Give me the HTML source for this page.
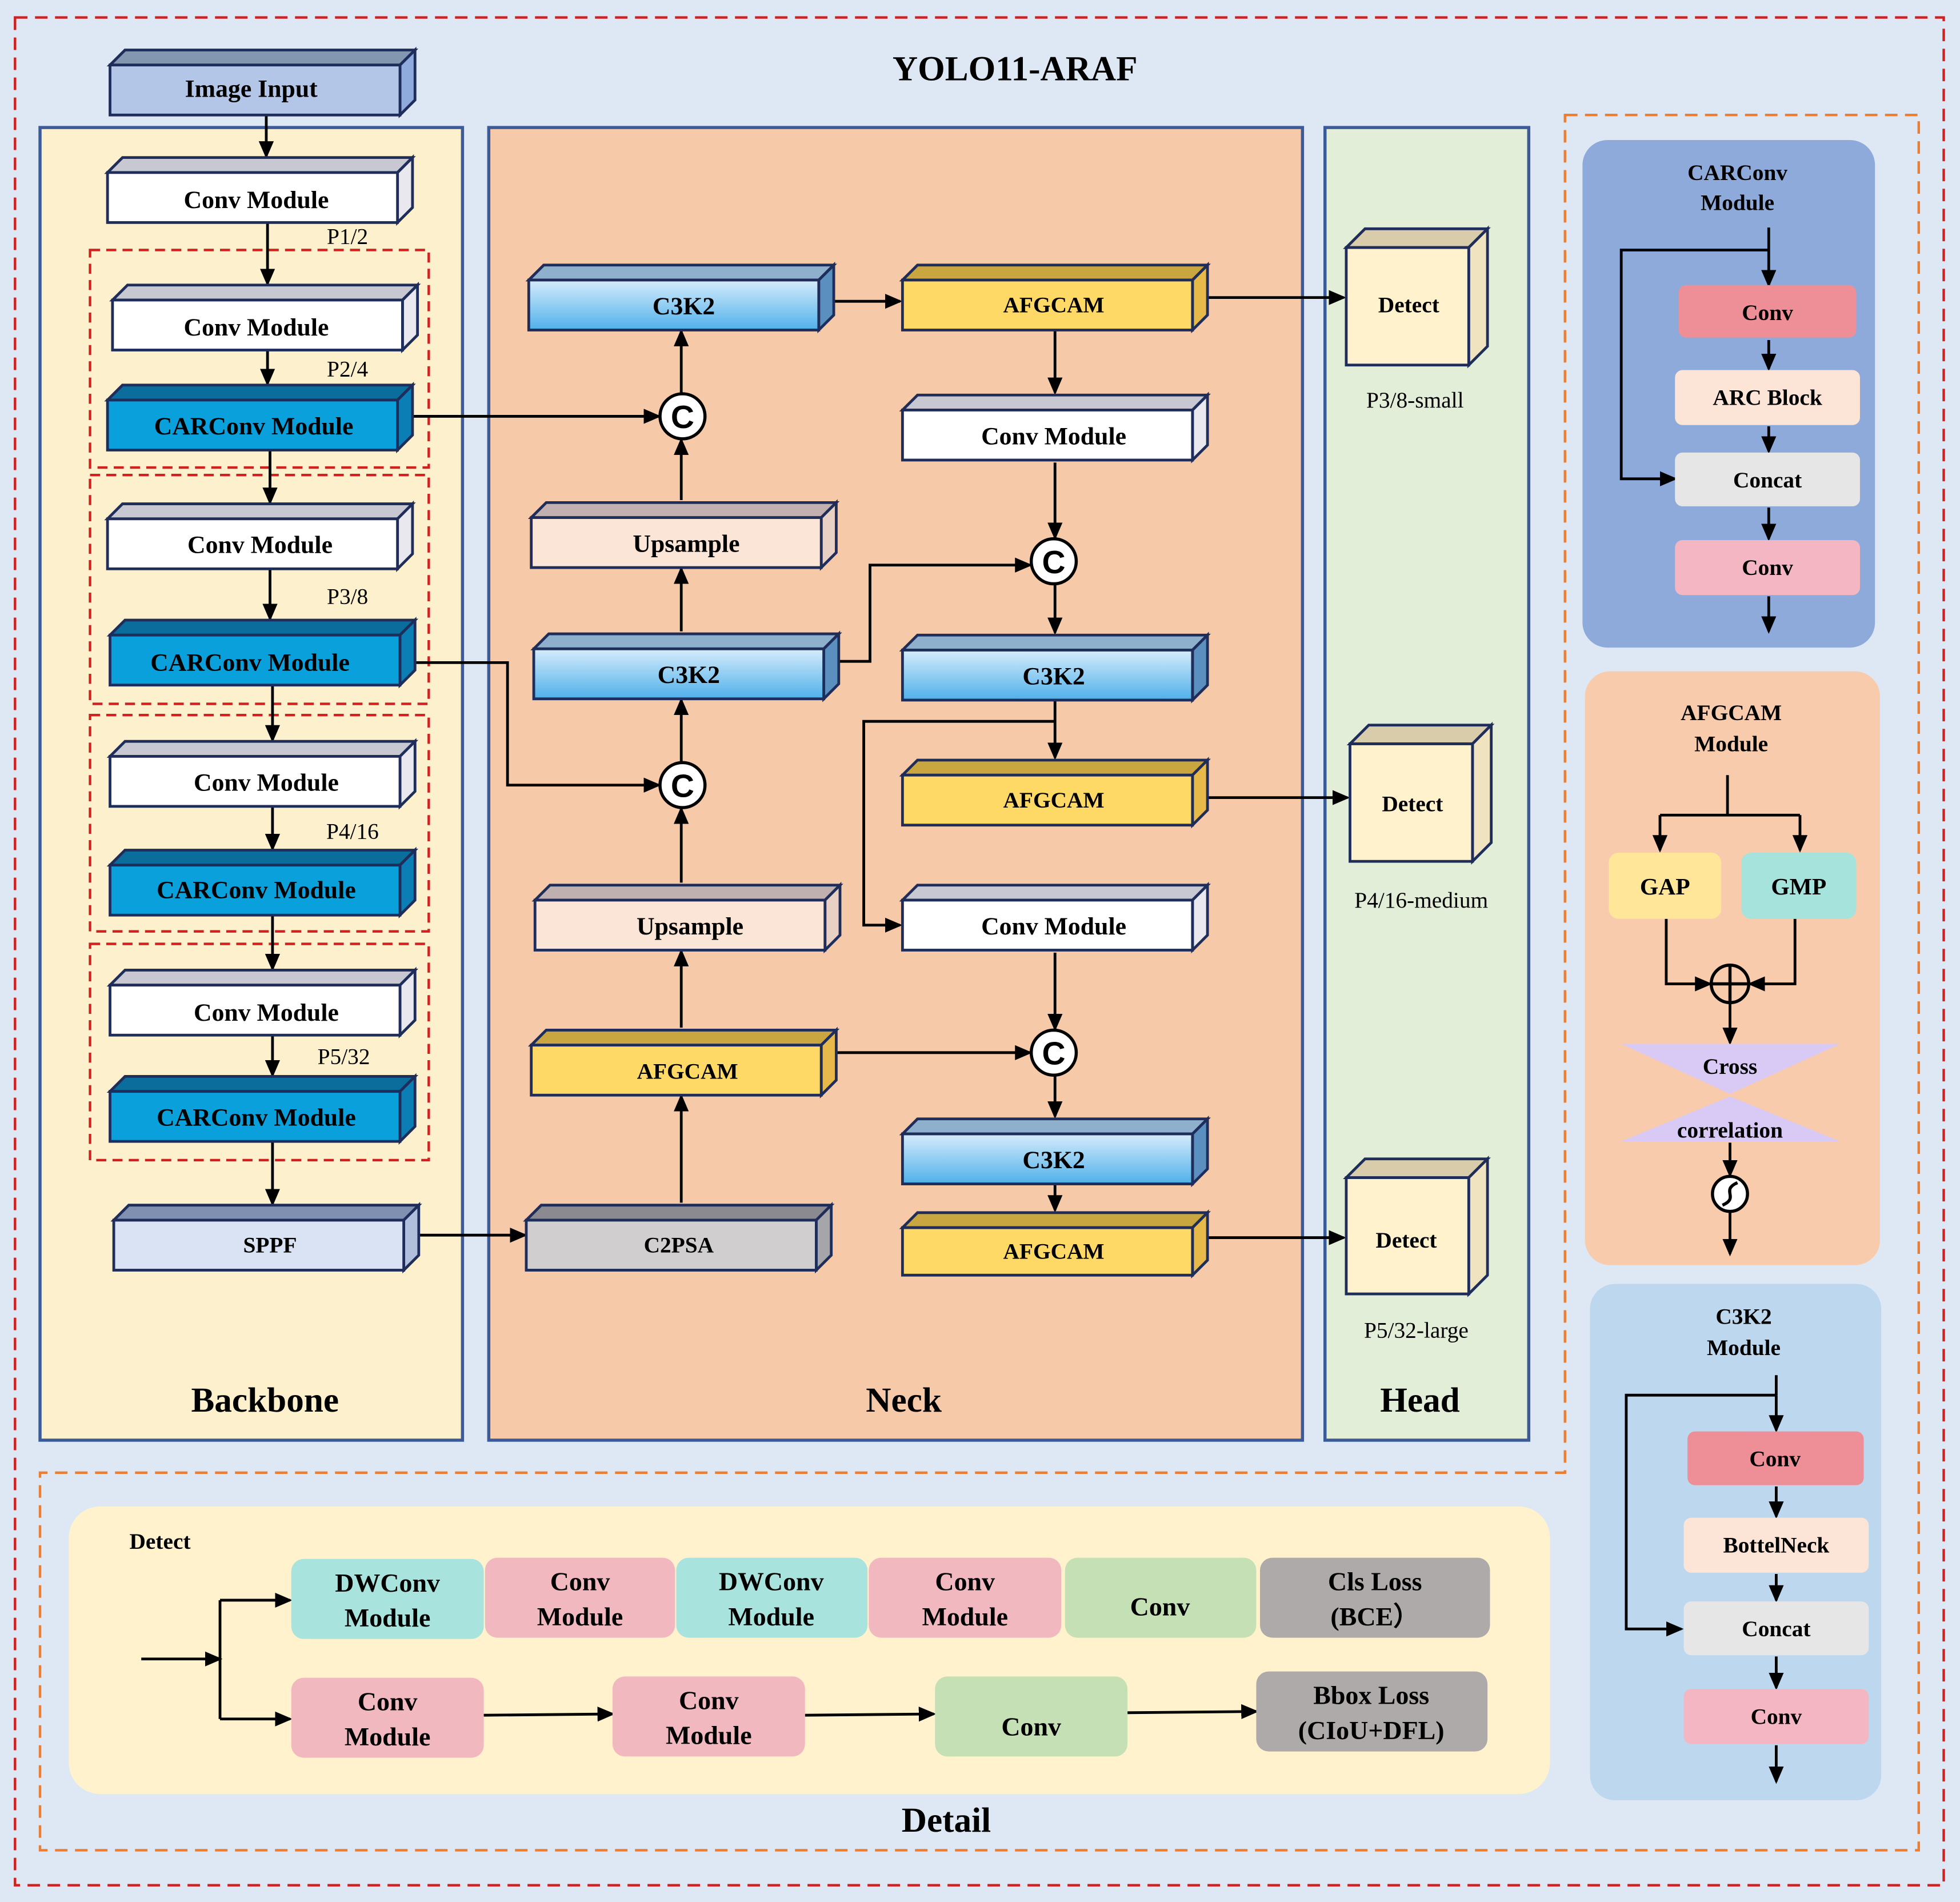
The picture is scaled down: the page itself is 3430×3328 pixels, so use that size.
<!DOCTYPE html>
<html><head><meta charset="utf-8"><style>
html,body{margin:0;padding:0;background:#dde8f4}
svg{display:block}
text{font-family:"Liberation Serif",serif;font-weight:bold;fill:#000;text-anchor:middle;dominant-baseline:central}
.fr{stroke:#1f2d5a;stroke-width:2.2}
.ln{stroke:#000;stroke-width:2.2;fill:none}
.a{marker-end:url(#ah)}
.w{fill:#fff}.wt{fill:#c8c8d2}.ws{fill:#e8e8ee}
.car{fill:#0aa0dc}.cart{fill:#0a6d9c}.cars{fill:#0b7fb5}
.af{fill:#ffd966}.aft{fill:#c9a640}.afs{fill:#e6b94a}
.up{fill:#fbe5d6}.upt{fill:#c0b0b0}.ups{fill:#e8d0c4}
.c3{fill:url(#g3)}.c3t{fill:#8fb0cc}.c3s{fill:#5a8fc0}
.l{font-size:20px}
.n{font-family:"Liberation Serif",serif;font-weight:normal;font-size:18px}
</style></head><body>
<svg width="3430" height="3328" viewBox="0 0 1568 1521.4" xmlns="http://www.w3.org/2000/svg">
<defs>
<marker id="ah" markerWidth="14" markerHeight="12" refX="12" refY="6" orient="auto" markerUnits="userSpaceOnUse"><path d="M0,0 L14,6 L0,12 z" fill="#000"/></marker>
<linearGradient id="g3" x1="0" y1="0" x2="0" y2="1"><stop offset="0" stop-color="#d6ecfb"/><stop offset="1" stop-color="#4fb0ea"/></linearGradient>
</defs>
<rect x="0" y="0" width="1568" height="1522" fill="#dde8f4"/>
<rect x="12" y="14" width="1543" height="1494" fill="none" stroke="#d02020" stroke-width="2" stroke-dasharray="10,6"/>
<path d="M1252,92 L1535,92 L1535,1480 L32,1480 L32,1178 L1252,1178 Z" fill="none" stroke="#ed7d31" stroke-width="2" stroke-dasharray="10,6"/>
<text x="812" y="55" style="font-size:28px">YOLO11-ARAF</text>

<rect x="32" y="102" width="338" height="1050" fill="#fdf0cc" stroke="#3a5a9a" stroke-width="2.5"/>
<rect x="391" y="102" width="651" height="1050" fill="#f6c9a8" stroke="#3a5a9a" stroke-width="2.5"/>
<rect x="1060" y="102" width="163" height="1050" fill="#e2eed8" stroke="#3a5a9a" stroke-width="2.5"/>
<text x="212" y="1120" style="font-size:28px">Backbone</text>
<text x="723" y="1120" style="font-size:28px">Neck</text>
<text x="1136" y="1120" style="font-size:28px">Head</text>

<g fill="none" stroke="#d02020" stroke-width="2" stroke-dasharray="8,5">
<rect x="72" y="200" width="271" height="174"/><rect x="72" y="380" width="271" height="183"/>
<rect x="72" y="572" width="271" height="173"/><rect x="72" y="755" width="271" height="173"/>
</g>

<!-- backbone arrows -->
<g class="ln">
<line class="a" x1="213" y1="92" x2="213" y2="125"/>
<line class="a" x1="214" y1="178" x2="214" y2="227"/>
<line class="a" x1="214" y1="280" x2="214" y2="307"/>
<line class="a" x1="216" y1="360" x2="216" y2="402"/>
<line class="a" x1="216" y1="455" x2="216" y2="495"/>
<line class="a" x1="218" y1="548" x2="218" y2="592"/>
<line class="a" x1="218" y1="645" x2="218" y2="679"/>
<line class="a" x1="218" y1="732" x2="218" y2="775"/>
<line class="a" x1="218" y1="828" x2="218" y2="860"/>
<line class="a" x1="218" y1="913" x2="218" y2="963"/>
<line class="a" x1="336" y1="988" x2="420" y2="988"/>
<line class="a" x1="545" y1="962" x2="545" y2="877"/>
<line class="a" x1="545" y1="822" x2="545" y2="761"/>
<line class="a" x1="545" y1="706" x2="545" y2="647"/>
<line class="a" x1="545" y1="610" x2="545" y2="560"/>
<line class="a" x1="545" y1="505" x2="545" y2="455"/>
<line class="a" x1="545" y1="400" x2="545" y2="352"/>
<line class="a" x1="545" y1="315" x2="545" y2="265"/>
<line class="a" x1="330" y1="333" x2="527" y2="333"/>
<polyline class="a" points="332,530 406,530 406,628 527,628"/>
<line class="a" x1="668" y1="241" x2="720" y2="241"/>
<line class="a" x1="966" y1="238" x2="1075" y2="238"/>
<line class="a" x1="844" y1="265" x2="844" y2="314"/>
<line class="a" x1="844" y1="370" x2="844" y2="430"/>
<polyline class="a" points="672,529 696,529 696,452 824,452"/>
<line class="a" x1="844" y1="468" x2="844" y2="506"/>
<line class="a" x1="844" y1="560" x2="844" y2="606"/>
<polyline class="a" points="844,577 691,577 691,740 720,740"/>
<line class="a" x1="966" y1="638" x2="1078" y2="638"/>
<line class="a" x1="844" y1="762" x2="844" y2="823"/>
<line class="a" x1="669" y1="842" x2="824" y2="842"/>
<line class="a" x1="844" y1="861" x2="844" y2="893"/>
<line class="a" x1="844" y1="948" x2="844" y2="968"/>
<line class="a" x1="966" y1="990" x2="1075" y2="990"/>
</g>

<!-- backbone boxes -->
<g class="fr">
<polygon points="88,52 100,40 332,40 320,52" fill="#8497b0"/><polygon points="320,52 332,40 332,80 320,92" fill="#8faadc"/><rect x="88" y="52" width="232" height="40" fill="#b4c6e7"/>
<polygon class="wt" points="86,138 98,126 330,126 318,138"/><polygon class="ws" points="318,138 330,126 330,166 318,178"/><rect class="w" x="86" y="138" width="232" height="40"/>
<polygon class="wt" points="90,240 102,228 334,228 322,240"/><polygon class="ws" points="322,240 334,228 334,268 322,280"/><rect class="w" x="90" y="240" width="232" height="40"/>
<polygon class="cart" points="86,320 98,308 330,308 318,320"/><polygon class="cars" points="318,320 330,308 330,348 318,360"/><rect class="car" x="86" y="320" width="232" height="40"/>
<polygon class="wt" points="86,415 98,403 330,403 318,415"/><polygon class="ws" points="318,415 330,403 330,443 318,455"/><rect class="w" x="86" y="415" width="232" height="40"/>
<polygon class="cart" points="88,508 100,496 332,496 320,508"/><polygon class="cars" points="320,508 332,496 332,536 320,548"/><rect class="car" x="88" y="508" width="232" height="40"/>
<polygon class="wt" points="88,605 100,593 332,593 320,605"/><polygon class="ws" points="320,605 332,593 332,633 320,645"/><rect class="w" x="88" y="605" width="232" height="40"/>
<polygon class="cart" points="88,692 100,680 332,680 320,692"/><polygon class="cars" points="320,692 332,680 332,720 320,732"/><rect class="car" x="88" y="692" width="232" height="40"/>
<polygon class="wt" points="88,788 100,776 332,776 320,788"/><polygon class="ws" points="320,788 332,776 332,816 320,828"/><rect class="w" x="88" y="788" width="232" height="40"/>
<polygon class="cart" points="88,873 100,861 332,861 320,873"/><polygon class="cars" points="320,873 332,861 332,901 320,913"/><rect class="car" x="88" y="873" width="232" height="40"/>
<polygon points="91,976 103,964 335,964 323,976" fill="#8090b0"/><polygon points="323,976 335,964 335,1004 323,1016" fill="#b0c0dc"/><rect x="91" y="976" width="232" height="40" fill="#dae3f3"/>
<!-- neck -->
<polygon points="421,976 433,964 665,964 653,976" fill="#8a8a90"/><polygon points="653,976 665,964 665,1004 653,1016" fill="#a6a6aa"/><rect x="421" y="976" width="232" height="40" fill="#d0cece"/>
<polygon class="aft" points="425,836 437,824 669,824 657,836"/><polygon class="afs" points="657,836 669,824 669,864 657,876"/><rect class="af" x="425" y="836" width="232" height="40"/>
<polygon class="upt" points="428,720 440,708 672,708 660,720"/><polygon class="ups" points="660,720 672,708 672,748 660,760"/><rect class="up" x="428" y="720" width="232" height="40"/>
<polygon class="c3t" points="427,519 439,507 671,507 659,519"/><polygon class="c3s" points="659,519 671,507 671,547 659,559"/><rect class="c3" x="427" y="519" width="232" height="40"/>
<polygon class="upt" points="425,414 437,402 669,402 657,414"/><polygon class="ups" points="657,414 669,402 669,442 657,454"/><rect class="up" x="425" y="414" width="232" height="40"/>
<polygon class="c3t" points="423,224 435,212 667,212 655,224"/><polygon class="c3s" points="655,224 667,212 667,252 655,264"/><rect class="c3" x="423" y="224" width="232" height="40"/>
<polygon class="aft" points="722,224 734,212 966,212 954,224"/><polygon class="afs" points="954,224 966,212 966,252 954,264"/><rect class="af" x="722" y="224" width="232" height="40"/>
<polygon class="wt" points="722,328 734,316 966,316 954,328"/><polygon class="ws" points="954,328 966,316 966,356 954,368"/><rect class="w" x="722" y="328" width="232" height="40"/>
<polygon class="c3t" points="722,520 734,508 966,508 954,520"/><polygon class="c3s" points="954,520 966,508 966,548 954,560"/><rect class="c3" x="722" y="520" width="232" height="40"/>
<polygon class="aft" points="722,620 734,608 966,608 954,620"/><polygon class="afs" points="954,620 966,608 966,648 954,660"/><rect class="af" x="722" y="620" width="232" height="40"/>
<polygon class="wt" points="722,720 734,708 966,708 954,720"/><polygon class="ws" points="954,720 966,708 966,748 954,760"/><rect class="w" x="722" y="720" width="232" height="40"/>
<polygon class="c3t" points="722,907 734,895 966,895 954,907"/><polygon class="c3s" points="954,907 966,895 966,935 954,947"/><rect class="c3" x="722" y="907" width="232" height="40"/>
<polygon class="aft" points="722,982 734,970 966,970 954,982"/><polygon class="afs" points="954,982 966,970 966,1008 954,1020"/><rect class="af" x="722" y="982" width="232" height="38"/>
<!-- detect cubes -->
<polygon points="1077,198 1092,183 1190,183 1175,198" fill="#d8ccaa"/><polygon points="1175,198 1190,183 1190,277 1175,292" fill="#f0e4c0"/><rect x="1077" y="198" width="98" height="94" fill="#fff2cc"/>
<polygon points="1080,595 1095,580 1193,580 1178,595" fill="#d8ccaa"/><polygon points="1178,595 1193,580 1193,674 1178,689" fill="#f0e4c0"/><rect x="1080" y="595" width="98" height="94" fill="#fff2cc"/>
<polygon points="1077,942 1092,927 1190,927 1175,942" fill="#d8ccaa"/><polygon points="1175,942 1190,927 1190,1020 1175,1035" fill="#f0e4c0"/><rect x="1077" y="942" width="98" height="93" fill="#fff2cc"/>
</g>

<!-- concat circles -->
<g fill="#fff" stroke="#000" stroke-width="2.5">
<circle cx="546" cy="333" r="18"/><circle cx="546" cy="628" r="18"/><circle cx="843" cy="449" r="18"/><circle cx="843" cy="842" r="18"/>
</g>
<g style="font-size:26px"><text x="546" y="334" style="font-family:'Liberation Sans',sans-serif;font-size:26px">C</text><text x="546" y="629" style="font-family:'Liberation Sans',sans-serif;font-size:26px">C</text><text x="843" y="450" style="font-family:'Liberation Sans',sans-serif;font-size:26px">C</text><text x="843" y="843" style="font-family:'Liberation Sans',sans-serif;font-size:26px">C</text></g>

<g class="l">
<text x="201" y="71">Image Input</text>
<text x="205" y="160">Conv Module</text>
<text x="205" y="262">Conv Module</text>
<text x="203" y="341">CARConv Module</text>
<text x="208" y="436">Conv Module</text>
<text x="200" y="530">CARConv Module</text>
<text x="213" y="626">Conv Module</text>
<text x="205" y="712">CARConv Module</text>
<text x="213" y="810">Conv Module</text>
<text x="205" y="894">CARConv Module</text>
<text x="216" y="996" style="font-size:18px">SPPF</text>
<text x="543" y="996" style="font-size:18px">C2PSA</text>
<text x="550" y="857" style="font-size:18px">AFGCAM</text>
<text x="552" y="741">Upsample</text>
<text x="551" y="540">C3K2</text>
<text x="549" y="435">Upsample</text>
<text x="547" y="245">C3K2</text>
<text x="843" y="244" style="font-size:18px">AFGCAM</text>
<text x="843" y="349">Conv Module</text>
<text x="843" y="541">C3K2</text>
<text x="843" y="640" style="font-size:18px">AFGCAM</text>
<text x="843" y="741">Conv Module</text>
<text x="843" y="928">C3K2</text>
<text x="843" y="1001" style="font-size:18px">AFGCAM</text>
<text x="1127" y="244" style="font-size:18px">Detect</text>
<text x="1130" y="643" style="font-size:18px">Detect</text>
<text x="1125" y="992" style="font-size:18px">Detect</text>
</g>
<g class="n">
<text class="n" x="278" y="189">P1/2</text><text class="n" x="278" y="295">P2/4</text><text class="n" x="278" y="477">P3/8</text>
<text class="n" x="282" y="665">P4/16</text><text class="n" x="275" y="845">P5/32</text>
<text class="n" x="1132" y="320">P3/8-small</text><text class="n" x="1137" y="720">P4/16-medium</text><text class="n" x="1133" y="1064">P5/32-large</text>
</g>

<!-- CARConv module panel -->
<rect x="1266" y="112" width="234" height="406" rx="20" fill="#8eaadb"/>
<text x="1390" y="138" style="font-size:18px">CARConv</text><text x="1390" y="162" style="font-size:18px">Module</text>
<g class="ln">
<line x1="1415" y1="182" x2="1415" y2="200"/><polyline class="a" points="1415,200 1297,200 1297,383 1340,383"/>
<line class="a" x1="1415" y1="200" x2="1415" y2="228"/>
<line class="a" x1="1415" y1="272" x2="1415" y2="295"/>
<line class="a" x1="1415" y1="341" x2="1415" y2="361"/>
<line class="a" x1="1415" y1="406" x2="1415" y2="431"/>
<line class="a" x1="1415" y1="477" x2="1415" y2="505"/>
</g>
<rect x="1343" y="228" width="142" height="42" rx="6" fill="#ee8f97"/><text x="1414" y="250" style="font-size:18px">Conv</text>
<rect x="1340" y="296" width="148" height="44" rx="6" fill="#fce4d6"/><text x="1414" y="318" style="font-size:18px">ARC Block</text>
<rect x="1340" y="362" width="148" height="43" rx="6" fill="#e7e6e6"/><text x="1414" y="384" style="font-size:18px">Concat</text>
<rect x="1340" y="432" width="148" height="44" rx="6" fill="#f4b6c2"/><text x="1414" y="454" style="font-size:18px">Conv</text>

<!-- AFGCAM module panel -->
<rect x="1268" y="537" width="236" height="475" rx="20" fill="#f8cbad"/>
<text x="1385" y="570" style="font-size:18px">AFGCAM</text><text x="1385" y="595" style="font-size:18px">Module</text>
<g class="ln">
<line x1="1382" y1="620" x2="1382" y2="652"/><line x1="1328" y1="652" x2="1440" y2="652"/>
<line class="a" x1="1328" y1="652" x2="1328" y2="680"/><line class="a" x1="1440" y1="652" x2="1440" y2="680"/>
<polyline class="a" points="1333,735 1333,787 1368,787"/><polyline class="a" points="1436,735 1436,787 1400,787"/>
<line class="a" x1="1384" y1="802" x2="1384" y2="834"/>
<line class="a" x1="1384" y1="914" x2="1384" y2="940"/>
<line class="a" x1="1384" y1="970" x2="1384" y2="1003"/>
</g>
<rect x="1287" y="682" width="90" height="53" rx="8" fill="#ffe699"/><text x="1332" y="709" style="font-size:19px">GAP</text>
<rect x="1393" y="682" width="92" height="53" rx="8" fill="#a6e3dc"/><text x="1439" y="709" style="font-size:19px">GMP</text>
<circle cx="1384" cy="787" r="15" fill="none" stroke="#000" stroke-width="2.5"/>
<line x1="1369" y1="787" x2="1399" y2="787" stroke="#000" stroke-width="2.5"/><line x1="1384" y1="772" x2="1384" y2="802" stroke="#000" stroke-width="2.5"/>
<polygon points="1297,835 1472,835 1384,875" fill="#d9c9f5"/><polygon points="1384,877 1297,913 1472,913" fill="#d9c9f5"/>
<text x="1384" y="853" style="font-size:18px">Cross</text><text x="1384" y="904" style="font-size:18px">correlation</text>
<circle cx="1384" cy="955" r="14" fill="#fff" stroke="#000" stroke-width="2.5"/>
<path d="M1378,964 C1392,958 1376,952 1390,946" fill="none" stroke="#000" stroke-width="2.5"/>

<!-- C3K2 module panel -->
<rect x="1272" y="1027" width="233" height="413" rx="20" fill="#bdd7ee"/>
<text x="1395" y="1053" style="font-size:18px">C3K2</text><text x="1395" y="1078" style="font-size:18px">Module</text>
<g class="ln">
<line x1="1421" y1="1100" x2="1421" y2="1116"/><polyline class="a" points="1421,1116 1301,1116 1301,1303 1345,1303"/>
<line class="a" x1="1421" y1="1116" x2="1421" y2="1144"/>
<line class="a" x1="1421" y1="1189" x2="1421" y2="1213"/>
<line class="a" x1="1421" y1="1259" x2="1421" y2="1280"/>
<line class="a" x1="1421" y1="1325" x2="1421" y2="1350"/>
<line class="a" x1="1421" y1="1396" x2="1421" y2="1425"/>
</g>
<rect x="1350" y="1145" width="141" height="43" rx="6" fill="#ee8f97"/><text x="1420" y="1167" style="font-size:18px">Conv</text>
<rect x="1347" y="1214" width="148" height="44" rx="6" fill="#fce4d6"/><text x="1421" y="1236" style="font-size:18px">BottelNeck</text>
<rect x="1347" y="1281" width="148" height="43" rx="6" fill="#e7e6e6"/><text x="1421" y="1303" style="font-size:18px">Concat</text>
<rect x="1347" y="1351" width="148" height="44" rx="6" fill="#f4b6c2"/><text x="1421" y="1373" style="font-size:18px">Conv</text>

<!-- Detail -->
<rect x="55" y="1205" width="1185" height="230" rx="25" fill="#fff2cc"/>
<text x="128" y="1233" style="font-size:18px">Detect</text>
<text x="757" y="1456" style="font-size:28px">Detail</text>
<g class="ln">
<line class="a" x1="113" y1="1327" x2="176" y2="1327"/><line x1="176" y1="1280" x2="176" y2="1375"/>
<line class="a" x1="176" y1="1280" x2="232" y2="1280"/><line class="a" x1="176" y1="1375" x2="232" y2="1375"/>
<line class="a" x1="387" y1="1372" x2="490" y2="1371"/>
<line class="a" x1="644" y1="1372" x2="747" y2="1371"/>
<line class="a" x1="902" y1="1370" x2="1005" y2="1369"/>
</g>
<g style="font-size:21px">
<rect x="233" y="1247" width="154" height="64" rx="10" fill="#a8e4dd"/><text x="310" y="1266" style="font-size:21px">DWConv</text><text x="310" y="1294" style="font-size:21px">Module</text>
<rect x="388" y="1246" width="152" height="64" rx="10" fill="#f2b8c0"/><text x="464" y="1265" style="font-size:21px">Conv</text><text x="464" y="1293" style="font-size:21px">Module</text>
<rect x="541" y="1246" width="153" height="64" rx="10" fill="#a8e4dd"/><text x="617" y="1265" style="font-size:21px">DWConv</text><text x="617" y="1293" style="font-size:21px">Module</text>
<rect x="695" y="1246" width="154" height="64" rx="10" fill="#f2b8c0"/><text x="772" y="1265" style="font-size:21px">Conv</text><text x="772" y="1293" style="font-size:21px">Module</text>
<rect x="852" y="1246" width="153" height="64" rx="10" fill="#c5e0b4"/><text x="928" y="1285" style="font-size:21px">Conv</text>
<rect x="1008" y="1246" width="184" height="64" rx="10" fill="#aeaaaa"/><text x="1100" y="1265" style="font-size:21px">Cls Loss</text><text x="1100" y="1293" style="font-size:21px">(BCE）</text>
<rect x="233" y="1342" width="154" height="64" rx="10" fill="#f2b8c0"/><text x="310" y="1361" style="font-size:21px">Conv</text><text x="310" y="1389" style="font-size:21px">Module</text>
<rect x="490" y="1341" width="154" height="64" rx="10" fill="#f2b8c0"/><text x="567" y="1360" style="font-size:21px">Conv</text><text x="567" y="1388" style="font-size:21px">Module</text>
<rect x="748" y="1341" width="154" height="64" rx="10" fill="#c5e0b4"/><text x="825" y="1381" style="font-size:21px">Conv</text>
<rect x="1005" y="1337" width="185" height="64" rx="10" fill="#aeaaaa"/><text x="1097" y="1356" style="font-size:21px">Bbox Loss</text><text x="1097" y="1384" style="font-size:21px">(CIoU+DFL)</text>
</g>
</svg>
</body></html>
